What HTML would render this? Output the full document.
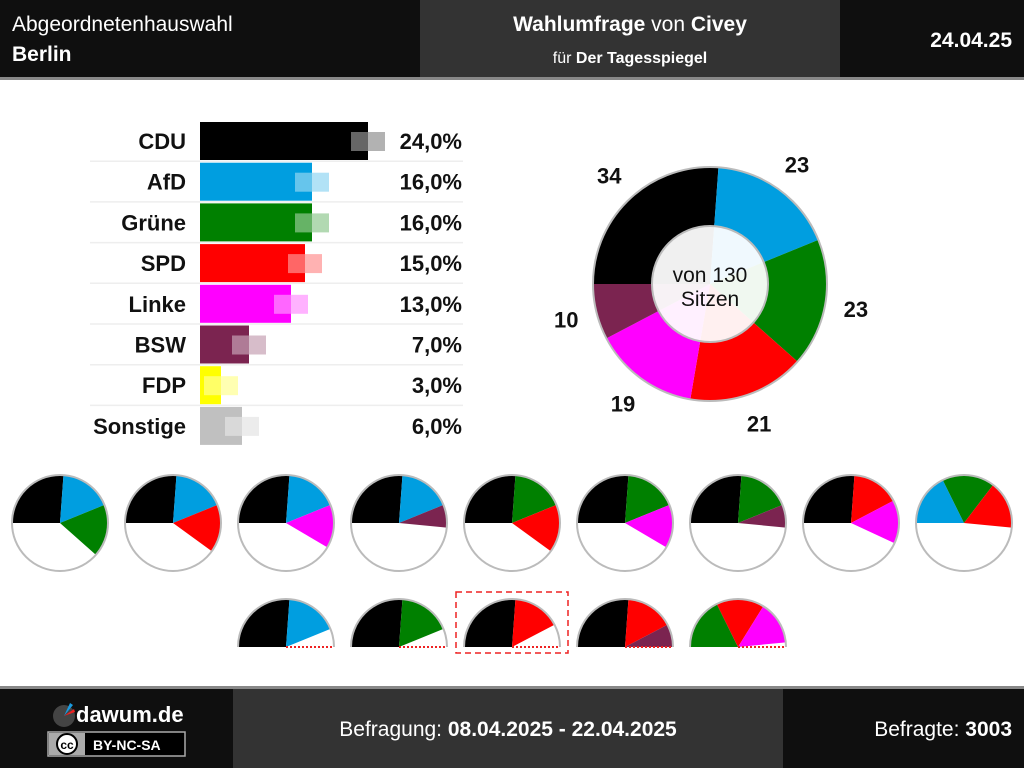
<!DOCTYPE html>
<html><head><meta charset="utf-8"><style>
body{margin:0;width:1024px;height:768px;overflow:hidden;background:#fff;font-family:"Liberation Sans",sans-serif;}
svg{display:block}
</style></head><body>
<svg width="1024" height="768">
<g>
<rect x="0" y="0" width="1024" height="78" fill="#0f0f0f"/>
<rect x="420" y="0" width="420" height="78" fill="#333"/>
<rect x="0" y="77" width="1024" height="3" fill="#888"/>
<text x="12" y="31" fill="#fff" font-size="21">Abgeordnetenhauswahl</text>
<text x="12" y="61" fill="#fff" font-size="21" font-weight="bold">Berlin</text>
<text x="630" y="31" fill="#fff" font-size="21" text-anchor="middle"><tspan font-weight="bold">Wahlumfrage</tspan> von <tspan font-weight="bold">Civey</tspan></text>
<text x="630" y="63" fill="#fff" font-size="16" text-anchor="middle">für <tspan font-weight="bold">Der Tagesspiegel</tspan></text>
<text x="1012" y="47" fill="#fff" font-size="21" font-weight="bold" text-anchor="end">24.04.25</text>
</g>
<g id="bars"></g>
<g id="donut"></g>
<g id="coal"></g>
<g>
<rect x="0" y="686" width="1024" height="82" fill="#0f0f0f"/>
<rect x="0" y="686" width="1024" height="3" fill="#888"/>
<rect x="233" y="689" width="550" height="79" fill="#333"/>
<circle cx="64" cy="716" r="11" fill="#444"/>
<path d="M64,716 L70,703 L73,705 Z" fill="#1a9be0"/>
<path d="M64,716 L74,709 L75,712 Z" fill="#e22"/>
<text x="76" y="722" fill="#fff" font-size="22" font-weight="bold">dawum.de</text>
<rect x="48" y="732" width="137" height="24" fill="#000" stroke="#aaa" stroke-width="1.5"/>
<rect x="49" y="733" width="36" height="22" fill="#aaa"/>
<circle cx="67" cy="744" r="10" fill="#fff" stroke="#000" stroke-width="2"/>
<text x="67" y="749" font-size="12" font-weight="bold" text-anchor="middle">cc</text>
<text x="93" y="750" fill="#fff" font-size="14" font-weight="bold">BY-NC-SA</text>
<text x="508" y="736" fill="#fff" font-size="21" text-anchor="middle">Befragung: <tspan font-weight="bold">08.04.2025 - 22.04.2025</tspan></text>
<text x="1012" y="736" fill="#fff" font-size="21" text-anchor="end">Befragte: <tspan font-weight="bold">3003</tspan></text>
</g>
</svg>
<script>
const parties=["CDU","AfD","Grüne","SPD","Linke","BSW","FDP","Sonstige"];
const colors=["#000000","#009ee0","#008000","#ff0000","#ff00ff","#7b2450","#ffff00","#c0c0c0"];
const values=[24,16,16,15,13,7,3,6];
const prevValues=[24,16,16,15,13,7,3,6];
const seatParties=["CDU","AfD","Grüne","SPD","Linke","BSW"];
const seats=[34,23,23,21,19,10];
const totalSeats=130;
const coalRow1=[["CDU","AfD","Grüne"],["CDU","AfD","SPD"],["CDU","AfD","Linke"],["CDU","AfD","BSW"],["CDU","Grüne","SPD"],["CDU","Grüne","Linke"],["CDU","Grüne","BSW"],["CDU","SPD","Linke"],["AfD","Grüne","SPD"]];
const coalRow2=[["CDU","AfD"],["CDU","Grüne"],["CDU","SPD"],["CDU","SPD","BSW"],["Grüne","SPD","Linke"]];
const highlight="CDU,SPD";
const NS="http://www.w3.org/2000/svg";
function mk(p,t,a){const e=document.createElementNS(NS,t);for(const k in a)e.setAttribute(k,a[k]);p.appendChild(e);return e;}
const col=n=>colors[parties.indexOf(n)];
const bx=v=>200+v*7;
const rowY=i=>122+i*40.7;
const gb=document.getElementById('bars');
parties.forEach((p,i)=>{
 const y=rowY(i);
 if(i>0){const s=mk(gb,'line',{x1:90,x2:463,y1:y-1.5,y2:y-1.5,stroke:'#eee','stroke-width':1.5});
 }
 const r=mk(gb,'rect',{x:200,y:y,width:bx(values[i])-200,height:38,fill:colors[i]});
 
 const c=bx(prevValues[i]),s=c-17,e=c+17,end=bx(values[i]);
 if(s<end){const g=mk(gb,'rect',{x:s,y:y+10,width:Math.min(e,end)-s,height:19,fill:'#fff','fill-opacity':0.4});
 }
 if(e>end){const g=mk(gb,'rect',{x:Math.max(s,end),y:y+10,width:e-Math.max(s,end),height:19,fill:colors[i],'fill-opacity':0.3});
 }
 const l=mk(gb,'text',{x:186,y:y+27,'font-size':22,'font-weight':'bold','text-anchor':'end',fill:'#111'});l.textContent=p;
 
 const v=mk(gb,'text',{x:462,y:y+27,'font-size':22,'font-weight':'bold','text-anchor':'end',fill:'#111'});v.textContent=values[i].toFixed(1).replace('.',',')+'%';
 
});
function pt(cx,cy,r,deg){const a=deg*Math.PI/180;return[cx-r*Math.cos(a),cy-r*Math.sin(a)];}
function sector(cx,cy,r,a0,a1){const p0=pt(cx,cy,r,a0),p1=pt(cx,cy,r,a1);return `M${cx},${cy}L${p0[0]},${p0[1]}A${r},${r} 0 ${a1-a0>180?1:0} 1 ${p1[0]},${p1[1]}Z`;}
const gd=document.getElementById('donut');
const DX=710,DY=284,DR=117,DI=58;
let acc=0;
seats.forEach((s,i)=>{
 const a0=acc/totalSeats*360,a1=(acc+s)/totalSeats*360;
 const p=mk(gd,'path',{d:sector(DX,DY,DR,a0,a1),fill:col(seatParties[i])});
 
 const m=(a0+a1)/2,lp=pt(DX,DY,DR+31,m);
 const t=mk(gd,'text',{x:lp[0],y:lp[1]+8,'font-size':22,'font-weight':'bold','text-anchor':'middle',fill:'#111'});t.textContent=s;
 
 acc+=s;
});
mk(gd,'circle',{cx:DX,cy:DY,r:DR,fill:'none',stroke:'#bbb','stroke-width':2});
const ic=mk(gd,'circle',{cx:DX,cy:DY,r:DI,fill:'#fff','fill-opacity':0.94,stroke:'#bbb','stroke-width':2});

const t1=mk(gd,'text',{x:DX,y:DY-2,'font-size':21,'text-anchor':'middle',fill:'#111'});t1.textContent='von 130';

const t2=mk(gd,'text',{x:DX,y:DY+22,'font-size':21,'text-anchor':'middle',fill:'#111'});t2.textContent='Sitzen';

const gc=document.getElementById('coal');
function coalition(list,cx,cy,r,semi){
 const g=mk(gc,'g',{});
 
 
 if(semi)mk(g,'path',{d:`M${cx-r},${cy}A${r},${r} 0 0 1 ${cx+r},${cy}Z`,fill:'#fff'});
 else mk(g,'circle',{cx:cx,cy:cy,r:r,fill:'#fff'});
 let a=0;
 list.forEach(n=>{const s=seats[seatParties.indexOf(n)];const a1=a+s/totalSeats*360;
  const p=mk(g,'path',{d:sector(cx,cy,r,a,a1),fill:col(n)});
  a=a1;});
 if(semi){mk(g,'path',{d:`M${cx-r},${cy}A${r},${r} 0 0 1 ${cx+r},${cy}`,fill:'none',stroke:'#bbb','stroke-width':2});
  mk(g,'line',{x1:cx,y1:cy,x2:cx+r,y2:cy,stroke:'#e22','stroke-width':2,'stroke-dasharray':'2,2'});}
 else mk(g,'circle',{cx:cx,cy:cy,r:r,fill:'none',stroke:'#bbb','stroke-width':2});
 if(semi&&list.join(',')===highlight){const h=mk(g,'rect',{x:cx-56,y:cy-55,width:112,height:61,fill:'none',stroke:'#e22','stroke-width':1.5,'stroke-dasharray':'6,4'});
  }
}
coalRow1.forEach((c,i)=>coalition(c,60+i*113,523,48,false));
coalRow2.forEach((c,i)=>coalition(c,286+i*113,647,48,true));
</script>
</body></html>
